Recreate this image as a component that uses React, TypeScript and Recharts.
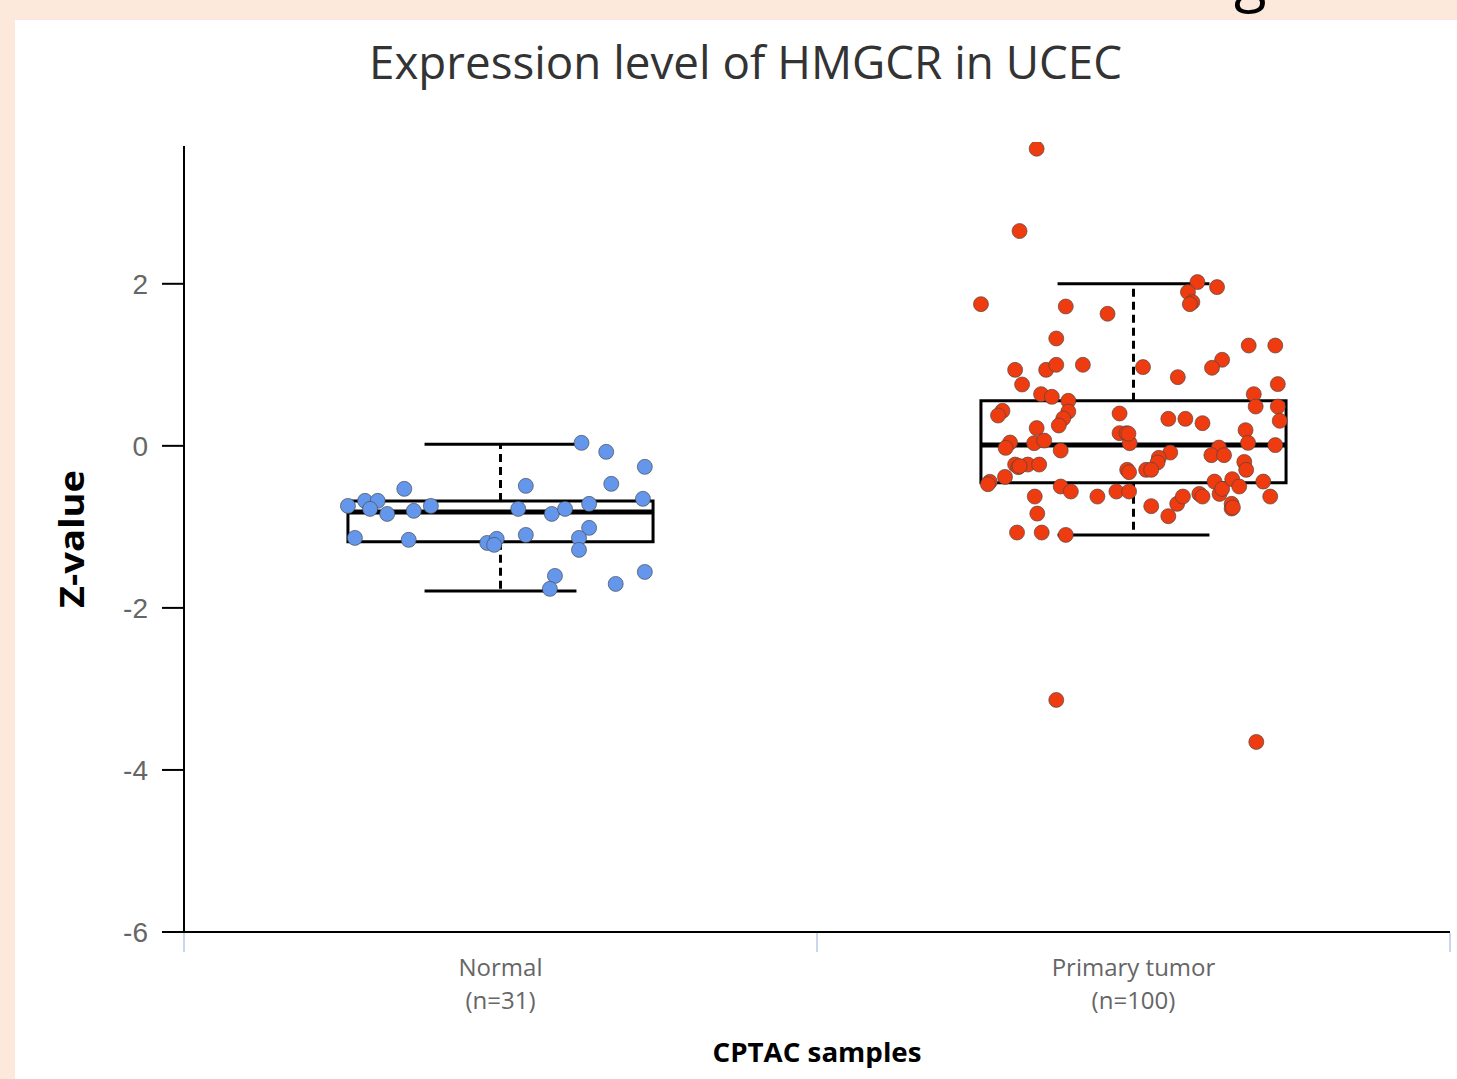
import React from 'react';
import {
  ScatterChart,
  Scatter,
  XAxis,
  YAxis,
  ReferenceArea,
  ReferenceLine,
} from 'recharts';

// categories and their sample counts
const categories = ['Normal', 'Primary tumor'];
const counts = ['(n=31)', '(n=100)'];
const yTicks = [-6, -4, -2, 0, 2];

// box stats: [min whisker, q1, median, q3, max whisker]
const normalBox = [-1.79, -1.185, -0.815, -0.68, 0.02];
const tumorBox = [-1.1, -0.457, 0.01, 0.556, 2.0];

// jittered sample points [x position, z-value]
const normalPoints: [number, number][] = [
  [0.628, 0.037], [0.667, -0.074], [0.728, -0.259], [0.675, -0.469],
  [0.540, -0.494], [0.348, -0.531], [0.725, -0.654], [0.259, -0.741],
  [0.286, -0.679], [0.306, -0.679], [0.294, -0.778], [0.321, -0.840],
  [0.363, -0.802], [0.390, -0.741], [0.528, -0.778], [0.581, -0.840],
  [0.602, -0.778], [0.640, -0.716], [0.640, -1.012], [0.270, -1.136],
  [0.355, -1.160], [0.479, -1.198], [0.494, -1.148], [0.490, -1.222],
  [0.540, -1.099], [0.624, -1.136], [0.624, -1.284], [0.586, -1.605],
  [0.578, -1.765], [0.682, -1.704], [0.728, -1.556],
];

const tumorPoints: [number, number][] = [
  [1.347, 3.667], [1.320, 2.651], [1.601, 2.021], [1.632, 1.959],
  [1.586, 1.898], [1.593, 1.774], [1.589, 1.749], [1.259, 1.749],
  [1.393, 1.720], [1.459, 1.630], [1.378, 1.325], [1.682, 1.238],
  [1.724, 1.238], [1.640, 1.062], [1.624, 0.963], [1.313, 0.938],
  [1.362, 0.938], [1.378, 1.000], [1.420, 1.000], [1.515, 0.972],
  [1.570, 0.848], [1.324, 0.757], [1.728, 0.762], [1.690, 0.638],
  [1.354, 0.638], [1.371, 0.605], [1.397, 0.556], [1.693, 0.485],
  [1.728, 0.485], [1.293, 0.432], [1.286, 0.374], [1.397, 0.423],
  [1.389, 0.337], [1.382, 0.251], [1.478, 0.399], [1.555, 0.333],
  [1.582, 0.333], [1.609, 0.280], [1.731, 0.309], [1.347, 0.219],
  [1.478, 0.157], [1.489, 0.157], [1.494, 0.033], [1.677, 0.194],
  [1.681, 0.037], [1.724, 0.009], [1.305, 0.041], [1.298, -0.025],
  [1.343, 0.033], [1.359, 0.065], [1.385, -0.058], [1.558, -0.083],
  [1.540, -0.148], [1.538, -0.206], [1.635, -0.021], [1.623, -0.115],
  [1.643, -0.115], [1.675, -0.198], [1.678, -0.296], [1.313, -0.231],
  [1.318, -0.263], [1.333, -0.231], [1.351, -0.231], [1.490, -0.296],
  [1.493, -0.325], [1.520, -0.296], [1.528, -0.296], [1.273, -0.444],
  [1.270, -0.473], [1.297, -0.383], [1.385, -0.502], [1.401, -0.564],
  [1.443, -0.626], [1.473, -0.564], [1.493, -0.564], [1.344, -0.626],
  [1.348, -0.836], [1.316, -1.070], [1.355, -1.070], [1.393, -1.099],
  [1.528, -0.744], [1.555, -0.868], [1.569, -0.716], [1.578, -0.626],
  [1.604, -0.593], [1.609, -0.626], [1.628, -0.441], [1.636, -0.593],
  [1.640, -0.531], [1.656, -0.411], [1.667, -0.502], [1.655, -0.716],
  [1.655, -0.774], [1.705, -0.441], [1.716, -0.626], [1.378, -3.136],
  [1.694, -3.654], [1.320, -0.250], [1.492, 0.150], [1.657, -0.760],
];

const normalData = normalPoints.map(([x, y]) => ({ x, y }));
const tumorData = tumorPoints.map(([x, y]) => ({ x, y }));

const FONT = '"Open Sans", "Noto Sans", sans-serif';

function XTick(props: any) {
  const { x, y, payload } = props;
  const v = payload.value as number;
  if (Number.isInteger(v)) {
    return <line x1={x} x2={x} y1={y + 1} y2={y + 20} stroke="#ccd6eb" strokeWidth={2} />;
  }
  const i = Math.floor(v);
  return (
    <g fill="#666" fontSize={24} fontFamily={FONT} textAnchor="middle">
      <text x={x} y={y + 44}>{categories[i]}</text>
      <text x={x} y={y + 77}>{counts[i]}</text>
    </g>
  );
}

function BoxPlot(center: number, stats: number[]) {
  const [lo, q1, med, q3, hi] = stats;
  const half = 0.241;
  const cap = 0.12;
  const k = `b${center}`;
  return [
    <ReferenceArea key={k + 'box'} x1={center - half} x2={center + half} y1={q1} y2={q3}
      fill="none" stroke="#000" strokeWidth={3} />,
    <ReferenceLine key={k + 'med'} segment={[{ x: center - half, y: med }, { x: center + half, y: med }]}
      stroke="#000" strokeWidth={5} />,
    <ReferenceLine key={k + 'up'} segment={[{ x: center, y: q3 }, { x: center, y: hi }]}
      stroke="#000" strokeWidth={3} strokeDasharray="8 5" />,
    <ReferenceLine key={k + 'dn'} segment={[{ x: center, y: q1 }, { x: center, y: lo }]}
      stroke="#000" strokeWidth={3} strokeDasharray="8 5" />,
    <ReferenceLine key={k + 'hc'} segment={[{ x: center - cap, y: hi }, { x: center + cap, y: hi }]}
      stroke="#000" strokeWidth={3} />,
    <ReferenceLine key={k + 'lc'} segment={[{ x: center - cap, y: lo }, { x: center + cap, y: lo }]}
      stroke="#000" strokeWidth={3} />,
  ];
}

const dot = (fill: string) => (p: any) => (
  <circle cx={p.cx} cy={p.cy} r={7.5} fill={fill} stroke="rgba(70,70,70,0.65)" strokeWidth={1} />
);

export default function App() {
  return (
    <div style={{ position: 'absolute', left: 0, top: 0, width: 1457, height: 1079, background: '#fde9db', overflow: 'hidden' }}>
      <svg width={1457} height={20} style={{ position: 'absolute', left: 0, top: 0 }}>
        <text x={1234} y={0} fontSize={60} fontFamily={FONT} fill="#000">g</text>
      </svg>
      <div style={{ position: 'absolute', left: 15, top: 20, right: 0, bottom: 0, background: '#fff' }} />
      <svg width={1457} height={1079} style={{ position: 'absolute', left: 0, top: 0 }}>
        <text x={745.5} y={79} textAnchor="middle" fontSize={46} fontFamily={FONT} fill="#333"
          textLength={753} lengthAdjust="spacingAndGlyphs">
          Expression level of HMGCR in UCEC
        </text>
        <text transform="translate(84,539) rotate(-90)" textAnchor="middle" fontSize={34} fontWeight={700}
          fontFamily={FONT} fill="#000" textLength={138} lengthAdjust="spacingAndGlyphs">
          Z-value
        </text>
        <text x={817} y={1062} textAnchor="middle" fontSize={27} fontWeight={700} fontFamily={FONT}
          fill="#000" textLength={209} lengthAdjust="spacingAndGlyphs">
          CPTAC samples
        </text>
      </svg>
      <div style={{ position: 'absolute', left: 0, top: 0 }}>
        <ScatterChart width={1457} height={1079} margin={{ top: 142, right: 7, bottom: 47, left: 0 }}>
          <XAxis
            type="number"
            dataKey="x"
            domain={[0, 2]}
            ticks={[0, 0.5, 1, 1.5, 2]}
            height={100}
            tickLine={false}
            tickSize={0}
            tickMargin={0}
            axisLine={{ stroke: '#000', strokeWidth: 2 }}
            tick={<XTick />}
            interval={0}
          />
          <YAxis
            type="number"
            dataKey="y"
            domain={[-6, 3.75]}
            ticks={yTicks}
            allowDataOverflow
            width={184}
            tickSize={22}
            tickMargin={14}
            axisLine={false}
            tickLine={{ stroke: '#000', strokeWidth: 2 }}
            tick={{ fill: '#666', fontSize: 28, fontFamily: '"Liberation Sans", Arial, sans-serif' }}
          />
          <ReferenceLine segment={[{ x: 0, y: -6 }, { x: 0, y: 3.7 }]} stroke="#000" strokeWidth={2} />
          {BoxPlot(0.5, normalBox)}
          {BoxPlot(1.5, tumorBox)}
          <Scatter data={normalData} shape={dot('#6497ec')} isAnimationActive={false} />
          <Scatter data={tumorData} shape={dot('#ef3b10')} isAnimationActive={false} />
        </ScatterChart>
      </div>
    </div>
  );
}
